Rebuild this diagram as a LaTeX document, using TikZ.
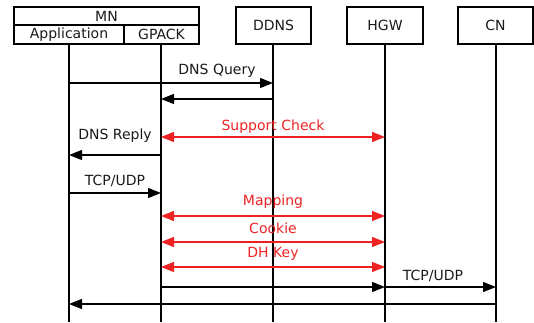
\documentclass[tikz,border=0pt]{standalone}
\usepackage{fontspec}
\setmainfont{DejaVu Sans}
\usetikzlibrary{arrows.meta}
\definecolor{msgred}{HTML}{EE2222}
\definecolor{txt}{HTML}{1A1A1A}
\begin{document}
\begin{tikzpicture}[x=1pt,y=-1pt,
  box/.style={draw=black,line width=1.2pt,inner sep=0pt,font=\fontsize{14}{16}\selectfont,text=txt},
  life/.style={draw=black,line width=1.1pt},
  msg/.style={draw=black,line width=1.3pt,-{Triangle[length=13pt,width=10pt]}},
  rmsg/.style={draw=msgred,line width=1.3pt,{Triangle[length=13pt,width=10pt]}-{Triangle[length=13pt,width=10pt]}},
  lbl/.style={font=\fontsize{14}{16}\selectfont,text=txt,inner sep=0pt},
  rlbl/.style={font=\fontsize{14}{16}\selectfont,text=msgred,inner sep=0pt}]
\useasboundingbox (0,0) rectangle (534,322);
% boxes
\node[box,minimum width=185pt,minimum height=18pt] (mn) at (106.5,16) {MN};
\node[box,minimum width=110pt,minimum height=19pt] (app) at (69,34.5) {Application};
\node[box,minimum width=75pt,minimum height=19pt] (gp) at (161.5,34.5) {GPACK};
\node[box,minimum width=75pt,minimum height=37pt] (dd) at (273.5,25.5) {DDNS};
\node[box,minimum width=76pt,minimum height=37pt] (hg) at (385,25.5) {HGW};
\node[box,minimum width=75pt,minimum height=37pt] (cn) at (495.5,25.5) {CN};
% lifelines
\coordinate (appT) at (69,44);  \coordinate (appB) at (69,322);
\coordinate (gpT) at (161,44);  \coordinate (gpB) at (161,322);
\coordinate (ddT) at (273,44);  \coordinate (ddB) at (273,322);
\coordinate (hgT) at (385,44);  \coordinate (hgB) at (385,322);
\coordinate (cnT) at (496,44);  \coordinate (cnB) at (496,322);
\draw[life] (appT) -- (appB);
\draw[life] (gpT) -- (gpB);
\draw[life] (ddT) -- (ddB);
\draw[life] (hgT) -- (hgB);
\draw[life] (cnT) -- (cnB);
% messages
\coordinate (m1a) at (69,83);  \coordinate (m1b) at (273,83);
\draw[msg] (m1a) -- (m1b);
\node[lbl] (l1) at (217,71) {DNS Query};
\coordinate (m2a) at (273,99); \coordinate (m2b) at (161,99);
\draw[msg] (m2a) -- (m2b);
\coordinate (m3a) at (161,137); \coordinate (m3b) at (385,137);
\draw[rmsg] (m3a) -- (m3b);
\node[rlbl] (l3) at (273,127) {Support Check};
\coordinate (m4a) at (161,155); \coordinate (m4b) at (69,155);
\draw[msg] (m4a) -- (m4b);
\node[lbl] (l4) at (115,136) {DNS Reply};
\coordinate (m5a) at (69,193); \coordinate (m5b) at (161,193);
\draw[msg] (m5a) -- (m5b);
\node[lbl] (l5) at (115,181) {TCP/UDP};
\coordinate (m6a) at (161,216); \coordinate (m6b) at (385,216);
\draw[rmsg] (m6a) -- (m6b);
\node[rlbl] (l6) at (273,202) {Mapping};
\coordinate (m7a) at (161,242); \coordinate (m7b) at (385,242);
\draw[rmsg] (m7a) -- (m7b);
\node[rlbl] (l7) at (273,228) {Cookie};
\coordinate (m8a) at (161,267); \coordinate (m8b) at (385,267);
\draw[rmsg] (m8a) -- (m8b);
\node[rlbl] (l8) at (273,254) {DH Key};
\coordinate (m9a) at (161,287); \coordinate (m9b) at (385,287);
\draw[msg] (m9a) -- (m9b);
\coordinate (m10a) at (385,287); \coordinate (m10b) at (496,287);
\draw[msg] (m10a) -- (m10b);
\node[lbl] (l10) at (433,276) {TCP/UDP};
\coordinate (m11a) at (496,304); \coordinate (m11b) at (69,304);
\draw[msg] (m11a) -- (m11b);
\end{tikzpicture}
\end{document}
